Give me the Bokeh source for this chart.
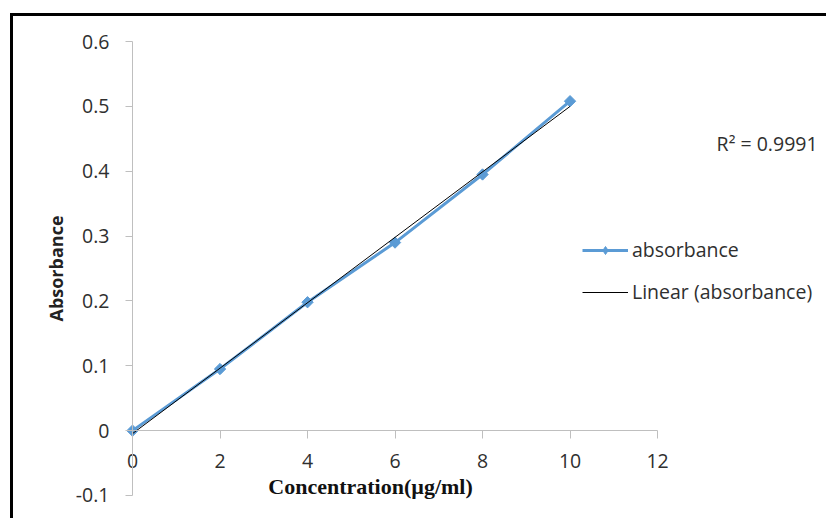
import numpy as np
from bokeh.plotting import figure
from bokeh.models import Range1d, FixedTicker, Label, Legend, LegendItem
from bokeh.embed import file_html
from bokeh.resources import INLINE

# ---- data ----
concentration = [0, 2, 4, 6, 8, 10]
absorbance = [0.0, 0.095, 0.198, 0.290, 0.395, 0.508]
x_ticks = [0, 2, 4, 6, 8, 10, 12]
y_ticks = [-0.1, 0.0, 0.1, 0.2, 0.3, 0.4, 0.5, 0.6]
y_tick_labels = ["-0.1", "0", "0.1", "0.2", "0.3", "0.4", "0.5", "0.6"]
x_title = "Concentration(\u00b5g/ml)"
y_title = "Absorbance"
series_name = "absorbance"
trend_name = "Linear (absorbance)"
r2_text = "R\u00b2 = 0.9991"

BLUE = "#5B9BD5"
TXT = "#2f2f2f"
AX = "#bfbfbf"
FONT = "Open Sans"
FS = "19.5px"

# whole canvas is the plotting frame; axes are placed at x=0 / y=0 with bounds
p = figure(width=816, height=505, output_backend="svg", toolbar_location=None,
           x_range=Range1d(-2.72, 15.93), y_range=Range1d(-0.1401, 0.6386),
           min_border_left=0, min_border_right=0,
           min_border_top=0, min_border_bottom=0)
p.margin = (13, 0, 0, 10)
p.styles = {"border-top": "3px solid black", "border-left": "3px solid black"}
p.grid.visible = False
p.outline_line_color = None
p.background_fill_color = "white"
p.border_fill_color = "white"

# y axis at x = 0
ya = p.yaxis[0]
ya.fixed_location = 0
ya.bounds = (y_ticks[0], y_ticks[-1])
ya.ticker = FixedTicker(ticks=y_ticks)
ya.major_label_overrides = {t: l for t, l in zip(y_ticks, y_tick_labels)}
ya.axis_line_color = AX
ya.major_tick_line_color = AX
ya.major_tick_out = 7
ya.major_tick_in = 0
ya.minor_tick_line_color = None
ya.major_label_standoff = 16
ya.major_label_text_font = FONT
ya.major_label_text_font_size = FS
ya.major_label_text_color = TXT

# x axis crossing at y = 0
xa = p.xaxis[0]
xa.fixed_location = 0
xa.bounds = (x_ticks[0], x_ticks[-1])
xa.ticker = FixedTicker(ticks=x_ticks)
xa.axis_line_color = AX
xa.major_tick_line_color = AX
xa.major_tick_out = 8
xa.major_tick_in = 0
xa.minor_tick_line_color = None
xa.major_label_standoff = 15
xa.major_label_text_font = FONT
xa.major_label_text_font_size = FS
xa.major_label_text_color = TXT

# series
r_line = p.line(concentration, absorbance, line_color=BLUE, line_width=3)
r_pts = p.scatter(concentration, absorbance, marker="square", size=8,
                  angle=np.pi / 4, fill_color=BLUE, line_color=BLUE)
# legend swatch marker (hidden on the plot, shown in the legend)
r_key = p.scatter(concentration[:1], absorbance[:1], marker="diamond", size=12,
                  fill_color=BLUE, line_color=BLUE, visible=False)

# linear trendline from the data
slope, intercept = np.polyfit(concentration, absorbance, 1)
tx = [min(concentration), max(concentration)]
ty = [slope * v + intercept for v in tx]
r_trend = p.line(tx, ty, line_color="black", line_width=1)

legend = Legend(items=[LegendItem(label=series_name, renderers=[r_line, r_key]),
                       LegendItem(label=trend_name, renderers=[r_trend])],
                location=(569, 216))
legend.border_line_color = None
legend.background_fill_alpha = 0
legend.padding = 0
legend.margin = 0
legend.glyph_width = 46
legend.glyph_height = 20
legend.label_height = 20
legend.spacing = 15
legend.label_standoff = 4
legend.label_text_font = FONT
legend.label_text_font_size = FS
legend.label_text_color = TXT
p.add_layout(legend, "center")

p.add_layout(Label(x=13.35, y=0.443, text=r2_text, text_font=FONT,
                   text_font_size=FS, text_color=TXT,
                   text_align="left", text_baseline="middle"))
p.add_layout(Label(x=5.44, y=-0.0864, text=x_title, text_font="Liberation Serif",
                   text_font_style="bold", text_font_size="22px", text_color="#111111",
                   text_align="center", text_baseline="middle"))
p.add_layout(Label(x=-1.76, y=0.25, text=y_title, text_font=FONT, angle=np.pi / 2,
                   text_font_style="bold", text_font_size="18px", text_color="#222222",
                   text_align="center", text_baseline="middle"))

open("out.html", "w").write(file_html(p, INLINE))
